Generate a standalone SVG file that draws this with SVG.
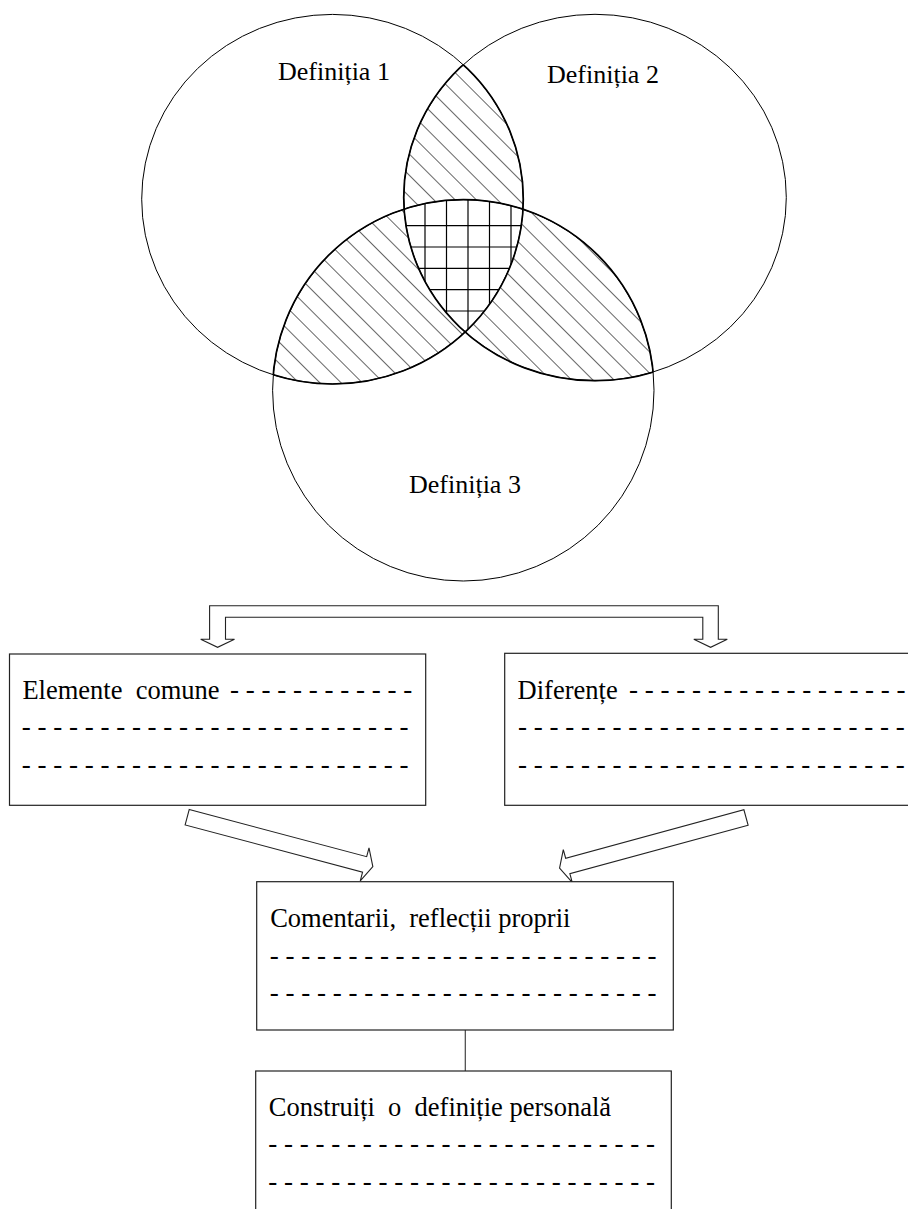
<svg xmlns="http://www.w3.org/2000/svg" xmlns:xlink="http://www.w3.org/1999/xlink" width="908" height="1209" viewBox="0 0 908 1209">
<defs>
<style>
.venn{fill:none;stroke:#000;stroke-width:1}
.bold{fill:none;stroke:#000;stroke-width:1.7}
.hatch{fill:url(#hatch);stroke:none}
.white{fill:#fff;stroke:none}
.grid{stroke:#000;stroke-width:1.2}
.box{fill:#fff;stroke:#222;stroke-width:1.2}
.arrow{fill:#fff;stroke:#222;stroke-width:1.1;stroke-linejoin:miter}
.conn{stroke:#444;stroke-width:1.2}
.lbl{font-family:"Liberation Serif","Times New Roman",serif;font-size:26px;fill:#000}
.txt{font-family:"Liberation Serif","Times New Roman",serif;font-size:26.5px;fill:#000}
.dash{font-family:"Liberation Serif","Times New Roman",serif;font-size:27px;fill:#000}
</style>
<ellipse id="e1" cx="332.5" cy="199.2" rx="190.8" ry="184.8"/>
<ellipse id="e2" cx="595" cy="197.5" rx="191.3" ry="183.2"/>
<circle id="e3" cx="463.3" cy="390.3" r="190.7"/>
<clipPath id="cp1"><use href="#e1"/></clipPath>
<clipPath id="cp2"><use href="#e2"/></clipPath>
<clipPath id="cp3"><use href="#e3"/></clipPath>
<clipPath id="cp23"><use href="#e2"/><use href="#e3"/></clipPath>
<clipPath id="cp13"><use href="#e1"/><use href="#e3"/></clipPath>
<clipPath id="cp12"><use href="#e1"/><use href="#e2"/></clipPath>
<pattern id="hatch" patternUnits="userSpaceOnUse" width="15" height="15" patternTransform="rotate(-45)">
<line x1="0" y1="-1" x2="0" y2="16" stroke="#000" stroke-width="1.2"/>
</pattern>
</defs>
<rect width="908" height="1209" fill="#fff"/>

<g id="venn-shading">
<g clip-path="url(#cp2)"><use href="#e1" class="hatch"/></g>
<g clip-path="url(#cp3)"><use href="#e1" class="hatch"/></g>
<g clip-path="url(#cp3)"><use href="#e2" class="hatch"/></g>
<g clip-path="url(#cp1)"><g clip-path="url(#cp2)"><g clip-path="url(#cp3)">
<use href="#e3" class="white"/>
<line class="grid" x1="425" y1="190" x2="425" y2="340"/>
<line class="grid" x1="446.5" y1="190" x2="446.5" y2="340"/>
<line class="grid" x1="468" y1="190" x2="468" y2="340"/>
<line class="grid" x1="489.5" y1="190" x2="489.5" y2="340"/>
<line class="grid" x1="511" y1="190" x2="511" y2="340"/>
<line class="grid" x1="395" y1="225.7" x2="535" y2="225.7"/>
<line class="grid" x1="395" y1="247" x2="535" y2="247"/>
<line class="grid" x1="395" y1="268.3" x2="535" y2="268.3"/>
<line class="grid" x1="395" y1="289.6" x2="535" y2="289.6"/>
<line class="grid" x1="395" y1="311" x2="535" y2="311"/>
</g></g></g>
</g>

<g id="def1">
<use href="#e1" class="venn"/>
<g clip-path="url(#cp23)"><use href="#e1" class="bold"/></g>
<text class="lbl" x="278" y="80">Definiția 1</text>
</g>
<g id="def2">
<use href="#e2" class="venn"/>
<g clip-path="url(#cp13)"><use href="#e2" class="bold"/></g>
<text class="lbl" x="547" y="83">Definiția 2</text>
</g>
<g id="def3">
<use href="#e3" class="venn"/>
<g clip-path="url(#cp12)"><use href="#e3" class="bold"/></g>
<text class="lbl" x="409" y="493">Definiția 3</text>
</g>

<g id="connectors">
<path class="arrow" d="M209.6,639.3 L200.7,639.3 L217.6,647.3 L234.5,639.3 L225.5,639.3 L225.5,617.3 L702.8,617.3 L702.8,639.3 L693.8,639.3 L710.6,647.3 L727.3,639.3 L718.3,639.3 L718.3,605.7 L209.6,605.7 Z"/>
<path class="arrow" transform="translate(187.2,817.2) rotate(14.9)" d="M0,-8 L183.6,-8 L183.6,-17 L192.1,0 L183.6,17 L183.6,8 L0,8 Z"/>
<path class="arrow" transform="translate(746,817.5) rotate(164.8)" d="M0,-8 L184.7,-8 L184.7,-17 L193.2,0 L184.7,17 L184.7,8 L0,8 Z"/>
<line class="conn" x1="465.3" y1="1030" x2="465.3" y2="1071"/>
</g>

<g id="box-elemente">
<rect class="box" x="9.5" y="654" width="416.2" height="151.3"/>
<text class="txt" x="22.4" y="699">Elemente&#160; comune</text>
<text class="dash" x="230" y="698.3">- - - - - - - - - - - -</text>
<text class="dash" x="21.7" y="735.3">- - - - - - - - - - - - - - - - - - - - - - - - -</text>
<text class="dash" x="21.7" y="773.3">- - - - - - - - - - - - - - - - - - - - - - - - -</text>
</g>

<g id="box-diferente">
<rect class="box" x="504.7" y="653.3" width="420" height="152"/>
<text class="txt" x="517.6" y="699">Diferențe</text>
<text class="dash" x="629" y="698.3">- - - - - - - - - - - - - - - - - -</text>
<text class="dash" x="518" y="735.3">- - - - - - - - - - - - - - - - - - - - - - - - -</text>
<text class="dash" x="518" y="773.3">- - - - - - - - - - - - - - - - - - - - - - - - -</text>
</g>

<g id="box-comentarii">
<rect class="box" x="256.7" y="881.7" width="416.6" height="148.3"/>
<text class="txt" x="270.2" y="927.3">Comentarii,&#160; reflecții proprii</text>
<text class="dash" x="269.7" y="963.7">- - - - - - - - - - - - - - - - - - - - - - - - -</text>
<text class="dash" x="269.7" y="1001.3">- - - - - - - - - - - - - - - - - - - - - - - - -</text>
</g>

<g id="box-construiti">
<rect class="box" x="255.7" y="1071" width="415.6" height="160"/>
<text class="txt" x="268.8" y="1116">Construiți&#160; o&#160; definiție personală</text>
<text class="dash" x="268.3" y="1152">- - - - - - - - - - - - - - - - - - - - - - - - -</text>
<text class="dash" x="268.3" y="1190">- - - - - - - - - - - - - - - - - - - - - - - - -</text>
</g>
</svg>
